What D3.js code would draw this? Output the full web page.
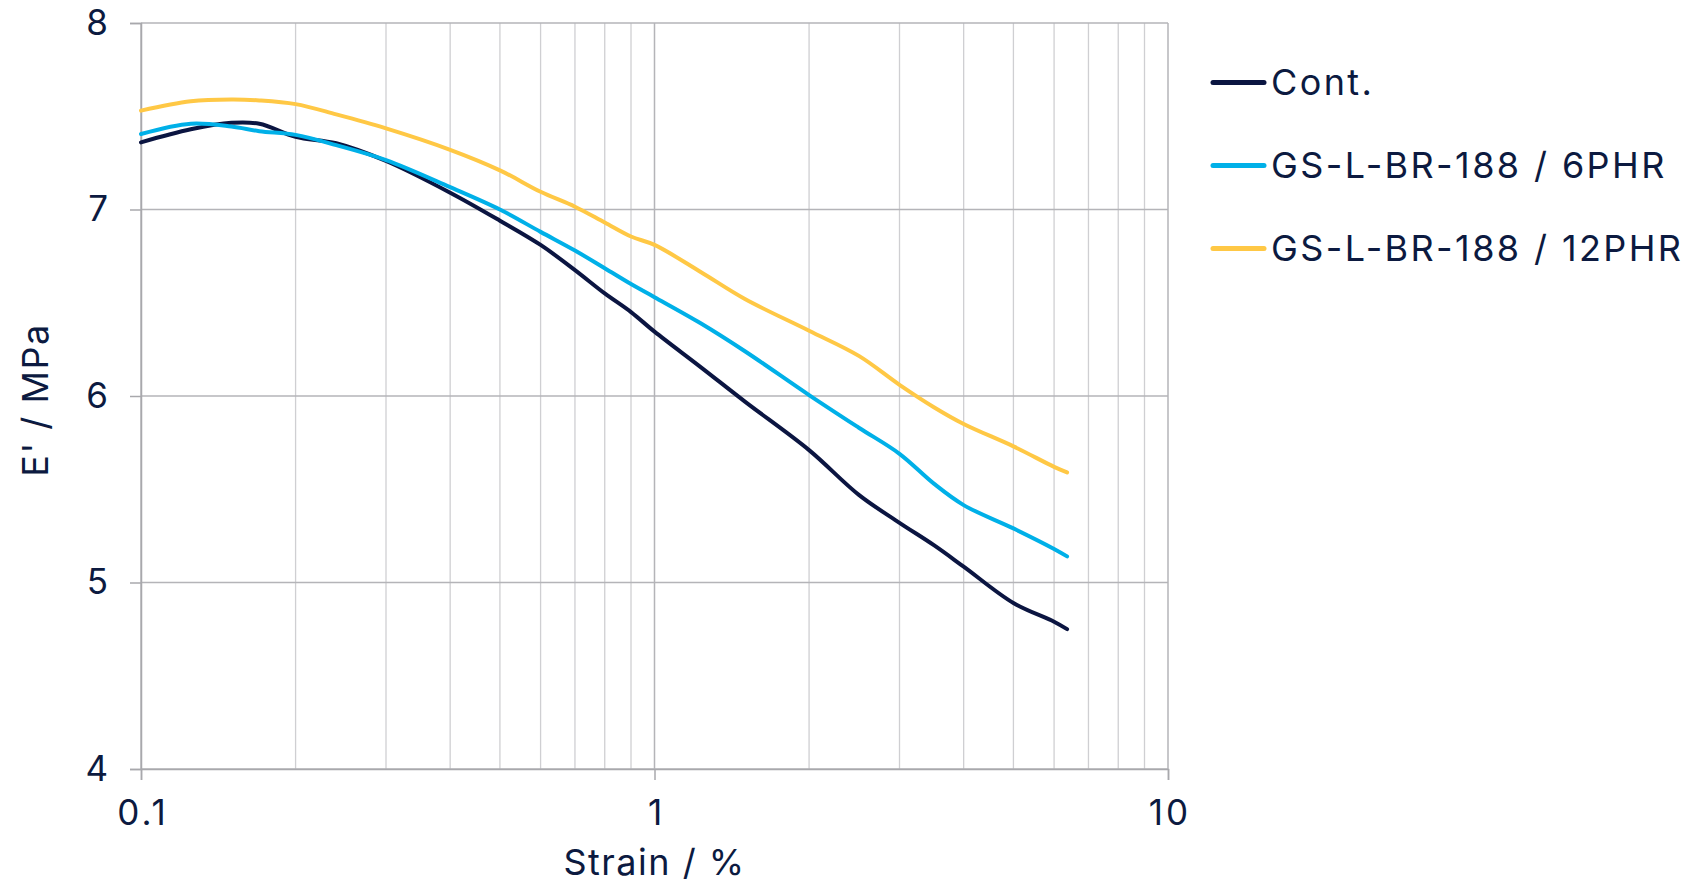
<!DOCTYPE html>
<html>
<head>
<meta charset="utf-8">
<script src="https://cdn.jsdelivr.net/npm/d3@7"></script>
<style>
  html, body { margin: 0; padding: 0; background: #fff; }
  svg text { font-family: Inter, "Noto Sans", sans-serif; fill: #0c1a40; }
</style>
</head>
<body>
<div id="chart"></div>
<script>
// Strain (%) sample points, shared by all series
var strain = [0.1, 0.125, 0.15, 0.17, 0.2, 0.24, 0.3, 0.4, 0.5, 0.6, 0.7, 0.8, 0.9, 1, 1.23, 1.5, 2, 2.5, 3, 3.5, 4, 5, 6, 6.36];

// E' (MPa) per series
var cont   = [7.36, 7.43, 7.465, 7.46, 7.39, 7.355, 7.26, 7.09, 6.94, 6.81, 6.675, 6.55, 6.45, 6.345, 6.155, 5.97, 5.71, 5.47, 5.32, 5.2, 5.085, 4.89, 4.79, 4.75];
var phr6   = [7.405, 7.46, 7.445, 7.42, 7.4, 7.345, 7.265, 7.12, 7.0, 6.88, 6.78, 6.685, 6.6, 6.53, 6.39, 6.24, 6.005, 5.83, 5.69, 5.53, 5.415, 5.29, 5.18, 5.14];
var phr12  = [7.53, 7.58, 7.59, 7.585, 7.565, 7.51, 7.435, 7.32, 7.21, 7.095, 7.015, 6.93, 6.855, 6.81, 6.665, 6.52, 6.35, 6.215, 6.06, 5.94, 5.85, 5.73, 5.62, 5.59];

var seriesNames = ['Cont.', 'GS-L-BR-188 / 6PHR', 'GS-L-BR-188 / 12PHR'];
var seriesColors = ['#0b1541', '#00b0e8', '#ffc845'];

var xTicks = [0.1, 1, 10];
var yTicks = [4, 5, 6, 7, 8];

var width = 1703, height = 884;
var margin = { left: 141, right: 535, top: 23, bottom: 115 };

var svg = d3.select('#chart').append('svg')
    .attr('width', width)
    .attr('height', height);

var x = d3.scaleLog().domain([0.1, 10]).range([margin.left, width - margin.right]);
var y = d3.scaleLinear().domain([4, 8]).range([height - margin.bottom, margin.top]);

// minor vertical grid
var minor = [];
[0.1, 1].forEach(function (dec) {
    for (var k = 2; k <= 9; k++) minor.push(dec * k);
});

var grid = svg.append('g');
grid.selectAll('line.minor')
    .data(minor)
    .join('line')
    .attr('x1', function (d) { return x(d); })
    .attr('x2', function (d) { return x(d); })
    .attr('y1', y(4))
    .attr('y2', y(8))
    .attr('stroke', '#cfcfd2')
    .attr('stroke-width', 1.3);

grid.selectAll('line.majx')
    .data(xTicks)
    .join('line')
    .attr('x1', function (d) { return x(d); })
    .attr('x2', function (d) { return x(d); })
    .attr('y1', y(4))
    .attr('y2', y(8))
    .attr('stroke', '#b4b4b8')
    .attr('stroke-width', 1.5);

grid.selectAll('line.majy')
    .data(yTicks)
    .join('line')
    .attr('x1', x(0.1))
    .attr('x2', x(10))
    .attr('y1', function (d) { return y(d); })
    .attr('y2', function (d) { return y(d); })
    .attr('stroke', '#b4b4b8')
    .attr('stroke-width', 1.5);

// axes
var xAxis = svg.append('g')
    .attr('transform', 'translate(0,' + y(4) + ')')
    .call(d3.axisBottom(x).tickValues(xTicks).tickSize(11).tickPadding(20)
        .tickFormat(function (d) { return String(d); }));

var yAxis = svg.append('g')
    .attr('transform', 'translate(' + x(0.1) + ',0)')
    .call(d3.axisLeft(y).tickValues(yTicks).tickSize(11).tickPadding(22)
        .tickFormat(d3.format('d')));

[xAxis, yAxis].forEach(function (g) {
    g.select('.domain').attr('stroke', '#a8a8ac').attr('stroke-width', 1.5);
    g.selectAll('.tick line').attr('stroke', '#a8a8ac').attr('stroke-width', 1.5);
    g.selectAll('.tick text')
        .attr('fill', '#0c1a40')
        .style('font-size', '35px')
        .style('font-family', 'Inter, sans-serif');
});
xAxis.selectAll('.tick text').style('letter-spacing', '3px').attr('dx', '1.5px');

// lines
var allSeries = [cont, phr6, phr12];
var line = d3.line()
    .x(function (d, i) { return x(strain[i]); })
    .y(function (d) { return y(d); })
    .curve(d3.curveCatmullRom.alpha(0.5));

svg.append('g')
    .selectAll('path')
    .data(allSeries)
    .join('path')
    .attr('d', line)
    .attr('fill', 'none')
    .attr('stroke', function (d, i) { return seriesColors[i]; })
    .attr('stroke-width', 4)
    .attr('stroke-linecap', 'round')
    .attr('stroke-linejoin', 'round');

// axis titles
svg.append('text')
    .attr('x', (x(0.1) + x(10)) / 2)
    .attr('y', 875)
    .attr('text-anchor', 'middle')
    .style('font-size', '36px')
    .style('letter-spacing', '1.5px')
    .text('Strain / %');

svg.append('text')
    .attr('transform', 'translate(48,' + ((y(4) + y(8)) / 2 + 4) + ') rotate(-90)')
    .attr('text-anchor', 'middle')
    .style('font-size', '36px')
    .style('letter-spacing', '1.5px')
    .text("E' / MPa");

// legend
var legend = svg.append('g').attr('transform', 'translate(1211,0)');
var legY = [82.5, 165.5, 248.5];
seriesNames.forEach(function (name, i) {
    legend.append('line')
        .attr('x1', 2).attr('x2', 53)
        .attr('y1', legY[i]).attr('y2', legY[i])
        .attr('stroke', seriesColors[i])
        .attr('stroke-width', 5)
        .attr('stroke-linecap', 'round');
    legend.append('text')
        .attr('x', 60)
        .attr('y', legY[i])
        .attr('dy', '0.36em')
        .style('font-size', '36px')
        .style('letter-spacing', '2.4px')
        .text(name);
});
</script>
</body>
</html>
